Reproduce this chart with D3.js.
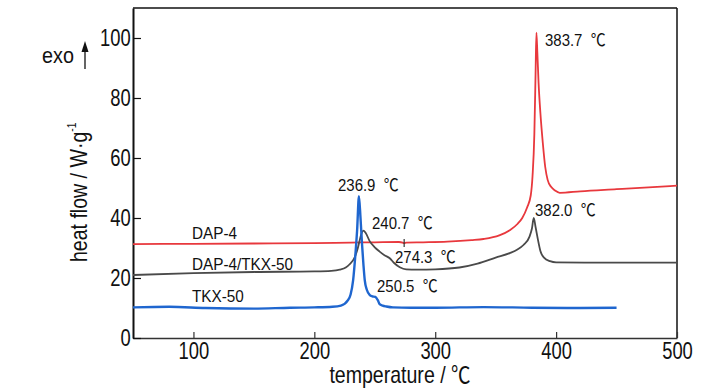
<!DOCTYPE html>
<html>
<head>
<meta charset="utf-8">
<script src="https://cdn.jsdelivr.net/npm/d3@7/dist/d3.min.js"></script>
<style>
  html, body { margin: 0; padding: 0; background: #fff; }
  svg { display: block; }
  text { font-family: "Liberation Sans", Arial, sans-serif; fill: #111; }
  .cjk { font-family: "Noto Sans CJK SC", "Liberation Sans", sans-serif; }
</style>
</head>
<body>
<svg id="chart" width="728" height="390"></svg>
<script>
// ---- data ----
const xTicks = [100, 200, 300, 400, 500];
const yTicks = [0, 20, 40, 60, 80, 100];

const tempDAP = [50, 100, 150, 200, 230, 250, 270, 273, 274.3, 276, 290, 310, 330, 340, 353, 362, 368, 372, 376, 379, 380.5, 382, 383, 383.7, 384.5, 385.5, 387, 389, 391, 393, 396, 399, 403, 420, 450, 480, 500];
const hfDAP   = [31.3, 31.4, 31.5, 31.6, 31.8, 31.9, 32.0, 31.8, 31.6, 31.8, 31.9, 32.1, 32.6, 33.0, 34.2, 36.0, 38.0, 40.0, 43.5, 47.5, 54.0, 68.0, 88.0, 101.8, 95.0, 85.0, 75.0, 65.0, 57.0, 52.7, 50.3, 49.2, 48.4, 48.9, 49.6, 50.3, 50.8];

const tempMix = [50, 100, 150, 200, 214, 221, 226, 229, 233.5, 236, 237.6, 239, 240.5, 242.5, 245.9, 250, 254, 258, 262.4, 266, 270.7, 276, 285, 300, 320, 335, 350, 361.6, 368, 373, 378, 380, 381.5, 383, 385, 387, 390, 395, 400, 450, 500];
const hfMix   = [21.0, 21.6, 22.0, 22.2, 22.4, 22.8, 23.5, 24.5, 27.0, 30.0, 32.7, 34.8, 35.8, 35.0, 32.2, 30.2, 28.8, 27.6, 26.6, 25.0, 23.6, 22.9, 22.8, 22.9, 23.5, 24.8, 26.8, 28.3, 29.5, 31.0, 33.8, 36.5, 40.0, 37.0, 32.7, 29.0, 26.8, 25.6, 25.2, 25.1, 25.1];

const tempTKX = [50, 80, 110, 150, 180, 200, 215, 222, 228, 230, 232.1, 234, 235.4, 236.9, 238.2, 239.5, 240.7, 241.7, 243.5, 245.9, 248, 250.5, 252.5, 254, 256.5, 259.6, 265, 280, 300, 340, 380, 420, 450];
const hfTKX   = [10.2, 10.4, 10.0, 9.8, 10.1, 10.2, 10.4, 10.8, 12.7, 14.5, 19.3, 28.0, 36.0, 47.3, 40.0, 31.0, 24.0, 19.3, 16.0, 14.3, 13.9, 13.7, 12.6, 11.3, 10.8, 10.5, 10.2, 10.1, 10.1, 10.3, 10.1, 10.0, 10.1];

const seriesNames = ["DAP-4", "DAP-4/TKX-50", "TKX-50"];
const peakLabels = ["383.7\u00A0 \u2103", "382.0\u00A0 \u2103", "236.9\u00A0 \u2103", "240.7\u00A0 \u2103", "274.3\u00A0 \u2103", "250.5\u00A0 \u2103"];
const markTemp = 274.3;
const markValue = 31.7;

// ---- layout ----
const svg = d3.select("#chart");
const x = d3.scaleLinear().domain([50, 500]).range([133, 677]);
const y = d3.scaleLinear().domain([0, 110]).range([338, 8]);

// text with the ℃ sign drawn from a CJK font, as in the original
function label(px, py, str, size, sx, anchor) {
  const g = svg.append("g").attr("transform", `translate(${px},${py}) scale(${sx},1)`);
  const t = g.append("text").attr("font-size", size).attr("text-anchor", anchor || "start");
  const parts = str.split("\u2103");
  parts.forEach((p, i) => {
    if (p) t.append("tspan").text(p);
    if (i < parts.length - 1) t.append("tspan").attr("class", "cjk").text("\u2103");
  });
  return t;
}

// frame (top/right)
svg.append("line").attr("x1", x(50)).attr("x2", x(500)).attr("y1", y(110)).attr("y2", y(110))
  .attr("stroke", "#111").attr("stroke-width", 1.5);
svg.append("line").attr("x1", x(500)).attr("x2", x(500)).attr("y1", y(110)).attr("y2", y(0))
  .attr("stroke", "#111").attr("stroke-width", 1.5);

// x axis
const gx = svg.append("g").attr("transform", `translate(0,${y(0)})`)
  .call(d3.axisBottom(x).tickValues(xTicks).tickSizeInner(-6).tickSizeOuter(0).tickPadding(5).tickFormat(d3.format("d")));
gx.select(".domain").attr("stroke", "#333").attr("stroke-width", 1.5);
gx.selectAll(".tick line").attr("stroke", "#333").attr("stroke-width", 1.2);
gx.selectAll(".tick text").attr("font-size", 23).attr("fill", "#111")
  .attr("font-family", "'Liberation Sans', Arial, sans-serif").attr("transform", "scale(0.8,1)");

// y axis
const gy = svg.append("g").attr("transform", `translate(${x(50)},0)`)
  .call(d3.axisLeft(y).tickValues(yTicks).tickSizeInner(-8).tickSizeOuter(0).tickPadding(3).tickFormat(d3.format("d")));
gy.select(".domain").attr("stroke", "#111").attr("stroke-width", 2);
gy.selectAll(".tick line").attr("stroke", "#111").attr("stroke-width", 1.2);
gy.selectAll(".tick text").attr("font-size", 23).attr("fill", "#111")
  .attr("font-family", "'Liberation Sans', Arial, sans-serif").attr("transform", "scale(0.8,1)");

// curves
const line = d3.line().x(d => x(d[0])).y(d => y(d[1])).curve(d3.curveMonotoneX);
const series = [
  { t: tempDAP, v: hfDAP, color: "#e8383d", w: 1.8 },
  { t: tempMix, v: hfMix, color: "#4a4a4a", w: 1.8 },
  { t: tempTKX, v: hfTKX, color: "#1f66cf", w: 2.4 }
];
series.forEach(s => {
  svg.append("path").datum(s.t.map((t, i) => [t, s.v[i]]))
    .attr("d", line).attr("fill", "none").attr("stroke", s.color)
    .attr("stroke-width", s.w).attr("stroke-linejoin", "round");
});

// small mark on DAP-4 curve
svg.append("line").attr("x1", x(markTemp)).attr("x2", x(markTemp))
  .attr("y1", y(markValue) - 4).attr("y2", y(markValue) + 4)
  .attr("stroke", "#333").attr("stroke-width", 1.2);

// series names
label(192, 239, seriesNames[0], 17, 0.9);
label(192, 270, seriesNames[1], 17, 0.9);
label(192, 302, seriesNames[2], 17, 0.9);

// peak annotations
label(545, 46, peakLabels[0], 17, 0.88);
label(535, 216, peakLabels[1], 17, 0.88);
label(338, 191, peakLabels[2], 17, 0.88);
label(372, 229, peakLabels[3], 17, 0.88);
label(395, 263, peakLabels[4], 17, 0.88);
label(377, 292, peakLabels[5], 17, 0.88);

// axis titles
label(400, 383, "temperature / \u2103", 23, 0.85, "middle");
const yt = svg.append("g").attr("transform", "translate(87,262) rotate(-90) scale(0.85,1)")
  .append("text").attr("font-size", 23).attr("text-anchor", "start");
yt.append("tspan").text("heat flow / W\u00B7g");
yt.append("tspan").attr("font-size", 12).attr("dy", -11).text("-1");

// exo arrow
label(42, 63, "exo", 22, 0.9);
svg.append("line").attr("x1", 85).attr("x2", 85).attr("y1", 69).attr("y2", 50)
  .attr("stroke", "#111").attr("stroke-width", 1.3);
svg.append("path").attr("d", "M85,41 L81.5,52 L88.5,52 Z").attr("fill", "#111");
</script>
</body>
</html>
